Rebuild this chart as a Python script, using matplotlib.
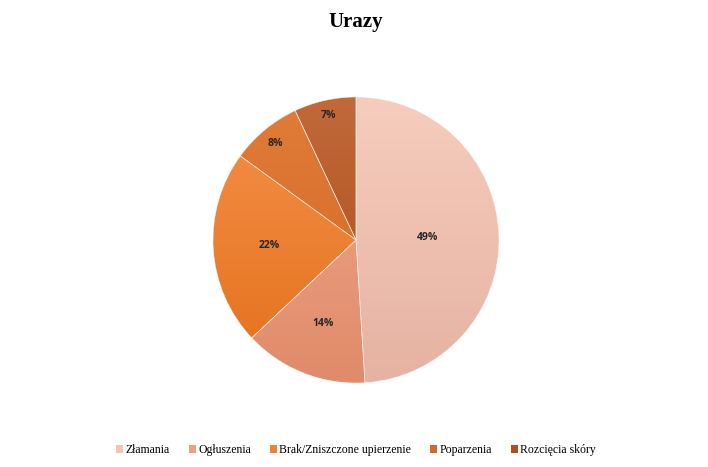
import matplotlib.pyplot as plt
import matplotlib.patches as mpatches
from matplotlib.colors import LinearSegmentedColormap
import numpy as np

# data
categories = ["Złamania", "Ogłuszenia", "Brak/Zniszczone upierzenie", "Poparzenia", "Rozcięcia skóry"]
values = [49, 14, 22, 8, 7]

# style: top / bottom gradient colours per slice, label radius
top_colors = ["#F6CDBD", "#F0A98D", "#F4914A", "#E07C3A", "#C2693A"]
bottom_colors = ["#E6B2A2", "#E08B6A", "#E4701C", "#D4661F", "#A84C15"]
legend_colors = ["#F2C4B3", "#E9A185", "#EE8236", "#D06A2C", "#B05020"]
label_r = [0.5, 0.63, 0.61, 0.88, 0.89]

fig = plt.figure(figsize=(7.08, 4.67), dpi=100)
W, H = 708, 467
cx, cy, R = 356, 240, 143
half = 150
ax = fig.add_axes([(cx - half) / W, (H - cy - half) / H, 2 * half / W, 2 * half / H])

wedges, _ = ax.pie(values, startangle=90, counterclock=False, radius=1,
                   colors=legend_colors,
                   wedgeprops=dict(edgecolor=(1, 1, 1, 0.6), linewidth=0.5))

grad = np.linspace(0, 1, 256).reshape(-1, 1)
for w, c1, c2 in zip(wedges, top_colors, bottom_colors):
    cmap = LinearSegmentedColormap.from_list("g", [c1, c2])
    im = ax.imshow(grad, cmap=cmap, extent=(-1, 1, -1, 1), origin="upper",
                   aspect="auto", zorder=1)
    im.set_clip_path(w)
    w.set_facecolor("none")
    w.set_zorder(2)

lim = half / R
ax.set_xlim(-lim, lim)
ax.set_ylim(-lim, lim)
ax.set_aspect("equal")
ax.axis("off")

total = sum(values)
for w, v, r in zip(wedges, values, label_r):
    ang = np.deg2rad((w.theta1 + w.theta2) / 2)
    ax.text(r * np.cos(ang), r * np.sin(ang), f"{round(100 * v / total)}%",
            ha="center", va="center", fontsize=7.5, fontweight="bold",
            color="#262626", family="Open Sans", zorder=3)

fig.text(cx / W, 1 - 22 / H, "Urazy", ha="center", va="center",
         fontsize=15, fontweight="bold", family="Liberation Serif")

handles = [mpatches.Patch(facecolor=c, edgecolor="none") for c in legend_colors]
fig.legend(handles, categories, loc="center", bbox_to_anchor=(cx / W, 1 - 450 / H),
           ncol=5, frameon=False, prop={"family": "Liberation Serif", "size": 8.5},
           handlelength=0.6, handleheight=0.6, handletextpad=0.2, columnspacing=1.6)

fig.savefig("out.png", dpi=100)
